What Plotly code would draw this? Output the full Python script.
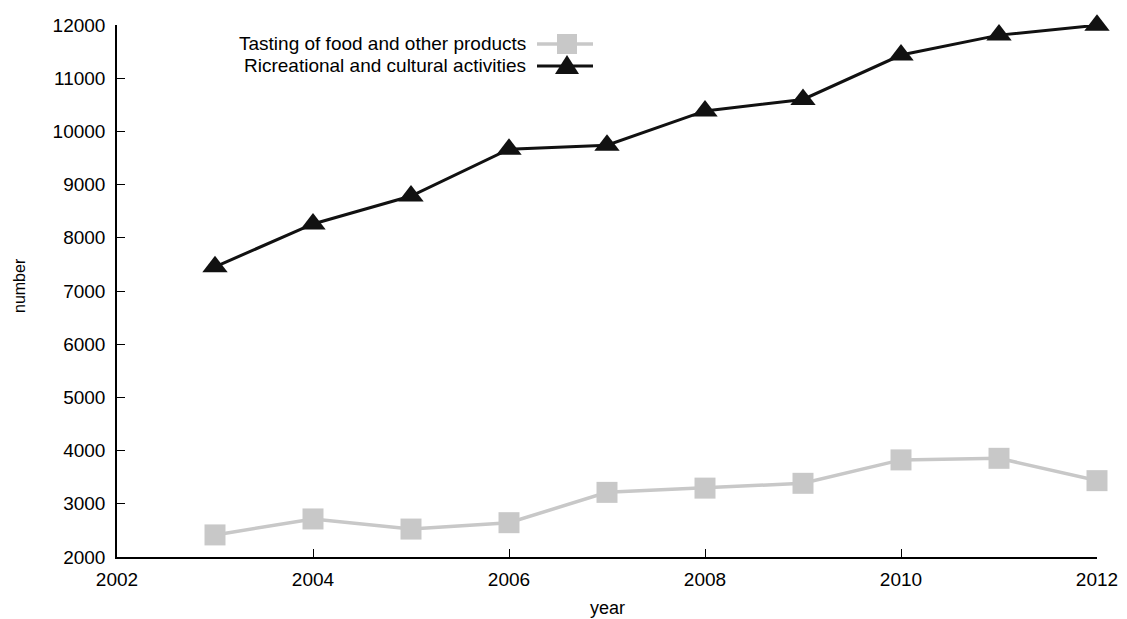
import plotly.graph_objects as go

years = [2003, 2004, 2005, 2006, 2007, 2008, 2009, 2010, 2011, 2012]
tasting = [2415, 2715, 2525, 2645, 3215, 3295, 3385, 3825, 3855, 3435]
ricreational = [7455, 8260, 8785, 9665, 9740, 10385, 10600, 11435, 11810, 11995]
series_names = ["Tasting of food and other products", "Ricreational and cultural activities"]
x_ticks = [2002, 2004, 2006, 2008, 2010, 2012]
y_ticks = [2000, 3000, 4000, 5000, 6000, 7000, 8000, 9000, 10000, 11000, 12000]
x_title = "year"
y_title = "number"

GRAY = "#c8c8c8"
BLACK = "#111111"
FONT = "Liberation Sans, Arial, sans-serif"

fig = go.Figure()
fig.add_trace(go.Scatter(x=years, y=tasting, mode="lines+markers", name=series_names[0],
                         line=dict(color=GRAY, width=3.5),
                         marker=dict(symbol="square", size=21, color=GRAY),
                         cliponaxis=False, showlegend=False))
fig.add_trace(go.Scatter(x=years, y=ricreational, mode="lines+markers", name=series_names[1],
                         line=dict(color=BLACK, width=3),
                         marker=dict(symbol="triangle-up", size=22, color=BLACK),
                         cliponaxis=False, showlegend=False))

W, H = 1127, 619
l, r, t, b = 117, 30, 25, 62
pw, ph = W - l - r, H - t - b
def px2x(px):
    return (px - l) / pw
def py2y(py):
    return 1 - (py - t) / ph

# custom legend (text right-aligned, sample on the right)
legend_rows = [(series_names[0], GRAY, "square"), (series_names[1], BLACK, "triangle")]
row_y = [44, 66]
shapes = []
annotations = []
for (name, col, sym), yy in zip(legend_rows, row_y):
    annotations.append(dict(x=px2x(528), y=py2y(yy), xref="paper", yref="paper",
                            text=name, showarrow=False, xanchor="right", yanchor="middle",
                            font=dict(family=FONT, size=19, color="#000")))
    shapes.append(dict(type="line", xref="paper", yref="paper",
                       x0=px2x(537), x1=px2x(593), y0=py2y(yy), y1=py2y(yy),
                       line=dict(color=col, width=3 if col == BLACK else 3.5)))
    if sym == "square":
        shapes.append(dict(type="rect", xref="paper", yref="paper", xsizemode="pixel", ysizemode="pixel",
                           xanchor=px2x(567), yanchor=py2y(yy), x0=-10, x1=10, y0=-10, y1=10,
                           fillcolor=col, line=dict(width=0)))
    else:
        shapes.append(dict(type="path", xref="paper", yref="paper", xsizemode="pixel", ysizemode="pixel",
                           xanchor=px2x(567), yanchor=py2y(yy),
                           path="M -12,-8 L 12,-8 L 0,11 Z",
                           fillcolor=col, line=dict(width=0)))

# axis titles
annotations.append(dict(x=px2x(607), y=py2y(608), xref="paper", yref="paper", text=x_title,
                        showarrow=False, xanchor="center", yanchor="middle",
                        font=dict(family=FONT, size=18, color="#000")))
annotations.append(dict(x=px2x(19), y=py2y(286), xref="paper", yref="paper", text=y_title,
                        showarrow=False, xanchor="center", yanchor="middle", textangle=-90,
                        font=dict(family=FONT, size=16, color="#000")))

fig.update_layout(
    width=W, height=H,
    margin=dict(l=l, r=r, t=t, b=b, autoexpand=False),
    paper_bgcolor="white", plot_bgcolor="white",
    font=dict(family=FONT, size=19, color="#000"),
    shapes=shapes, annotations=annotations,
    xaxis=dict(range=[2002, 2012], tickvals=x_ticks, ticktext=[str(v) for v in x_ticks],
               ticks="inside", ticklen=8, tickwidth=1, automargin=False,
               tickcolor="#000", showline=True, linecolor="#000", linewidth=1.5,
               showgrid=False, zeroline=False, ticklabelstandoff=4),
    yaxis=dict(range=[2000, 12000], tickvals=y_ticks, ticktext=[str(v) for v in y_ticks],
               ticks="inside", ticklen=8, tickwidth=1, automargin=False,
               tickcolor="#000", showline=True, linecolor="#000", linewidth=1.5,
               showgrid=False, zeroline=False, ticklabelstandoff=6),
)

fig.write_html("out.html")
